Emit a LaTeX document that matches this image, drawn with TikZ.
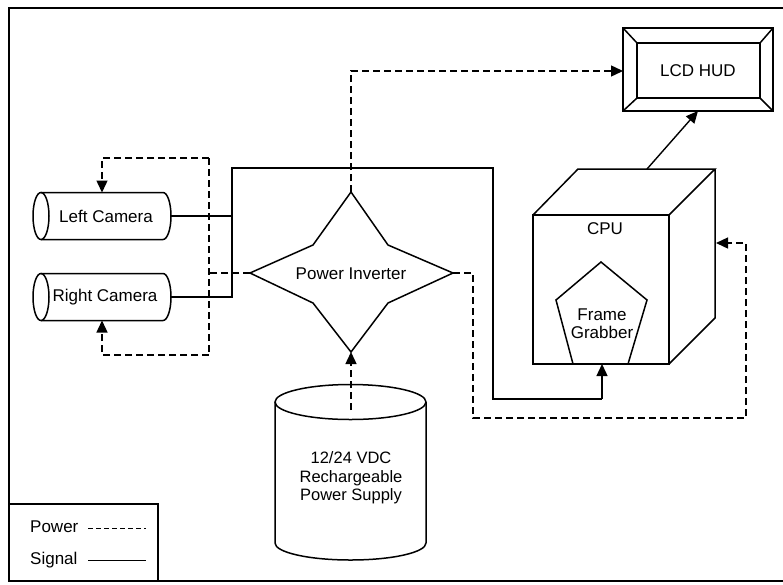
\documentclass[tikz,border=0pt]{standalone}
\usepackage{fontspec}
\setmainfont{Liberation Sans}
\usetikzlibrary{arrows.meta}
\begin{document}
\begin{tikzpicture}[x=1pt,y=-1pt,
  line join=miter,
  shape line/.style={line width=1.5pt},
  signal/.style={line width=1.4pt},
  power/.style={line width=1.4pt, dash pattern=on 7pt off 4pt},
  tip/.style={-{Triangle[length=12pt,width=11pt]}},
  label/.style={font=\fontsize{17}{19}\selectfont, inner sep=0pt, align=center}]

\useasboundingbox (0,0) rectangle (783,584);
% outer frame
\draw[line width=1.5pt] (9,8) rectangle (790,581);

% legend
\draw[line width=1.3pt] (9,504) -- (158,504) -- (158,581);
\node[label, anchor=west] (lgpow) at (30,527) {Power};
\node[label, anchor=west] (lgsig) at (30,560) {Signal};
\coordinate (lgpa) at (88,528); \coordinate (lgpb) at (146,528);
\coordinate (lgsa) at (88,560); \coordinate (lgsb) at (146,560);
\draw[line width=1pt, dash pattern=on 5pt off 3pt] (lgpa) -- (lgpb);
\draw[line width=1pt] (lgsa) -- (lgsb);

% LCD HUD: bevelled frame
\draw[shape line] (623,28) rectangle (773,111);
\draw[shape line] (637,43) rectangle (760,98);
\draw[shape line] (623,28) -- (637,43) (773,28) -- (760,43)
  (623,111) -- (637,98) (773,111) -- (760,98);
\node[label] (lcd) at (698,71) {LCD HUD};
\coordinate (lcdW) at (623,71);
\coordinate (lcdS) at (698,111);

% cameras (horizontal cylinders)
\foreach \cy/\nm in {216/Left, 297/Right}{
  \draw[shape line] (41,\cy) ellipse [x radius=8, y radius=23.5];
  \draw[shape line] (41,\cy-23.5) -- (163,\cy-23.5)
     arc[start angle=-90, end angle=90, x radius=8, y radius=23.5]
     -- (41,\cy+23.5);
}
\node[label] (lcam) at (106,216) {Left Camera};
\node[label] (rcam) at (105,297) {Right Camera};
\coordinate (lcamE) at (171,216);
\coordinate (rcamE) at (171,297);
\coordinate (lcamN) at (102,192.5);
\coordinate (rcamS) at (102,320.5);

% power inverter (four-pointed star)
\draw[shape line] (351,192) -- (388,245) -- (453,273) -- (388,303)
  -- (351,352) -- (313,303) -- (250,273) -- (313,245) -- cycle;
\node[label] (inv) at (351,274) {Power Inverter};
\coordinate (invN) at (351,192);
\coordinate (invS) at (351,352);
\coordinate (invW) at (250,273);
\coordinate (invE) at (453,273);

% CPU cube
\draw[shape line] (533,215) rectangle (669,364);
\draw[shape line] (533,215) -- (578,169) -- (715,169) -- (669,215)
  (715,169) -- (715,318) -- (669,364);
\node[label] (cpu) at (605,229) {CPU};
\coordinate (cpuE) at (716,243);
\coordinate (cpuTop) at (647,169);

% frame grabber (pentagon)
\draw[shape line] (573,364) -- (556,300) -- (601,262) -- (647,300) -- (628,364);
\node[label] (fg) at (602,324) {Frame\\[-1pt]Grabber};
\coordinate (fgS) at (602,364);

% power supply (vertical cylinder)
\draw[shape line] (350.5,402) ellipse [x radius=75.5, y radius=17.5];
\draw[shape line] (275,402) -- (275,543)
  arc[start angle=180, end angle=0, x radius=75.5, y radius=17]
  -- (426,402);
\node[label, font=\fontsize{16.5}{18.5}\selectfont] (ps) at (351,478)
  {12/24 VDC\\Rechargeable\\Power Supply};
\coordinate (psTop) at (351,410);

% signal connections
\coordinate (sj1) at (232,216);
\coordinate (sj2) at (232,297);
\coordinate (sj3) at (232,168);
\coordinate (sj4) at (493,168);
\coordinate (sj5) at (493,399);
\coordinate (sj6) at (602,399);
\draw[signal] (lcamE) -- (sj1);
\draw[signal] (rcamE) -- (sj2) -- (sj3) -- (sj4) -- (sj5) -- (sj6);
\draw[signal, tip] (sj6) -- (fgS);
\draw[signal, tip] (cpuTop) -- (lcdS);

% power connections
\coordinate (pj1) at (209,158);
\coordinate (pj2) at (209,355);
\coordinate (pj3) at (209,273);
\coordinate (pj4) at (102,158);
\coordinate (pj5) at (102,355);
\draw[power, tip] (pj1) -- (pj4) -- (lcamN);
\draw[power] (pj1) -- (pj2);
\draw[power, tip] (pj2) -- (pj5) -- (rcamS);
\draw[power] (invW) -- (pj3);
\coordinate (pj6) at (351,71);
\draw[power, tip] (invN) -- (pj6) -- (lcdW);
\draw[power, tip] (psTop) -- (invS);
\coordinate (pj7) at (473,273);
\coordinate (pj8) at (473,418);
\coordinate (pj9) at (746,418);
\coordinate (pj10) at (746,243);
\draw[power, tip] (invE) -- (pj7) -- (pj8) -- (pj9) -- (pj10) -- (cpuE);
\end{tikzpicture}
\end{document}
